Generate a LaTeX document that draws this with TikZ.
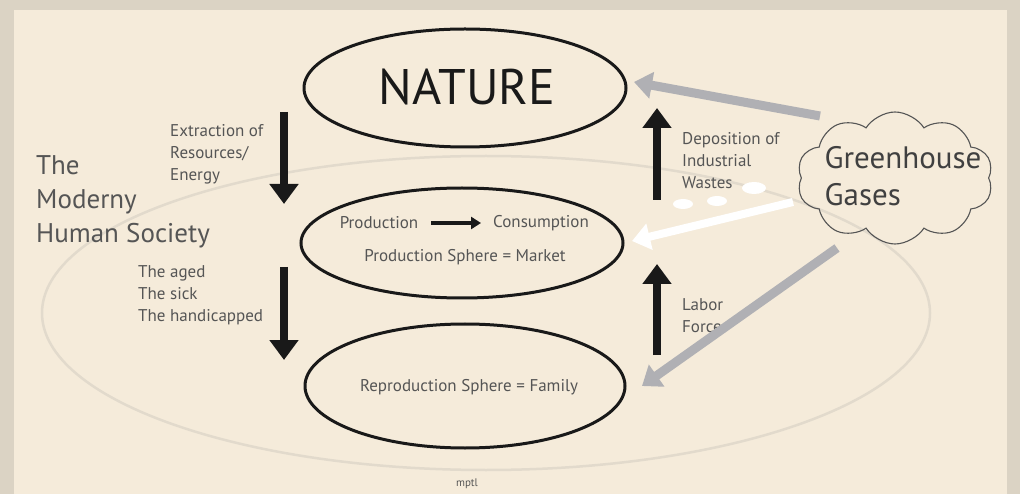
\documentclass[tikz,border=0pt]{standalone}
\usepackage{fontspec}
\setmainfont{PT Sans}
\usetikzlibrary{shapes.geometric,shapes.symbols,arrows.meta}

\definecolor{frame}{RGB}{219,211,196}
\definecolor{paper}{RGB}{245,235,218}
\definecolor{ring}{RGB}{226,218,204}
\definecolor{smoke}{RGB}{176,176,180}
\definecolor{ink}{RGB}{85,85,85}
\definecolor{pitch}{RGB}{25,25,25}

\tikzset{
  sphere/.style={draw=pitch,line width=3pt,ellipse,inner sep=0pt},
  flow/.style={draw=pitch,line width=8pt,-{Triangle[width=28pt,length=20pt]}},
  gas/.style={line width=9pt,-{Triangle[width=26pt,length=18pt]}},
  note/.style={text=ink,font=\fontsize{17}{22}\selectfont,align=left,anchor=west,inner sep=0pt},
  inside/.style={text=ink,font=\fontsize{17}{17}\selectfont,inner sep=0pt},
  puff/.style={fill=white,draw=none,ellipse,inner sep=0pt},
}

\begin{document}
\begin{tikzpicture}[x=1pt,y=-1pt]

\useasboundingbox (0,0) rectangle (1020,494);
\fill[frame] (0,0) rectangle (1020,494);
\fill[paper] (14,10) rectangle (1007,494);

% the society ring
\node[draw=ring,line width=2.5pt,ellipse,minimum width=888pt,minimum height=314pt] (society) at (486,313) {};

\node[text=ink,font=\fontsize{27}{34}\selectfont,align=left,anchor=west,inner sep=0pt] (title) at (36,202) {The\\Moderny\\Human Society};

% three spheres
\node[sphere,minimum width=322pt,minimum height=118pt] (nature) at (465,88) {};
\node[text=pitch,font=\fontsize{50}{50}\selectfont] (naturetext) at (467,87) {NATURE};

\node[sphere,minimum width=322pt,minimum height=110pt] (market) at (462,243) {};
\node[inside] (prod) at (379,223) {Production};
\node[inside] (cons) at (541,223) {Consumption};
\draw[draw=pitch,line width=3.5pt,-{Triangle[width=12pt,length=10pt]},shorten <=13pt,shorten >=12pt] (prod) -- (cons);
\node[inside] (markettext) at (465,257) {Production Sphere = Market};

\node[sphere,minimum width=320pt,minimum height=124pt] (family) at (465,386) {};
\node[inside] (familytext) at (469,387) {Reproduction Sphere = Family};

% black flows
\coordinate (ext-a) at (284,112);
\coordinate (ext-b) at (284,204);
\coordinate (care-a) at (284,267);
\coordinate (care-b) at (284,360);
\coordinate (waste-a) at (657,200);
\coordinate (waste-b) at (657,108);
\coordinate (labor-a) at (657,355);
\coordinate (labor-b) at (657,264);
\draw[flow] (ext-a) -- (ext-b);
\draw[flow] (care-a) -- (care-b);
\draw[flow] (waste-a) -- (waste-b);
\draw[flow] (labor-a) -- (labor-b);

\node[note] (extract) at (170,154) {Extraction of\\Resources/\\Energy};
\node[note] (care) at (138,295) {The aged\\The sick\\The handicapped};
\node[note] (waste) at (682,161) {Deposition of\\Industrial\\Wastes};
\node[note] (labor) at (682,316) {Labor\\Force};

% greenhouse gases
\node[cloud,draw=ink,line width=1.1pt,cloud puffs=10,cloud puff arc=115,aspect=1.45,minimum width=196pt,minimum height=132pt,inner sep=0pt] (ghg) at (895,178) {};
\node[text=black!75,font=\fontsize{31}{37}\selectfont,align=left,inner sep=0pt] (ghgtext) at (903,176) {Greenhouse\\Gases};

\coordinate (gas-a) at (820,116);
\coordinate (gas-b) at (634,82);
\coordinate (gas-c) at (793,202);
\coordinate (gas-d) at (632,241);
\coordinate (gas-e) at (837,248);
\coordinate (gas-f) at (642,386);
\draw[gas,smoke] (gas-a) -- (gas-b);
\draw[gas,white,line width=8pt] (gas-c) -- (gas-d);
\draw[gas,smoke] (gas-e) -- (gas-f);

\node[puff,minimum width=20pt,minimum height=10pt] (puff1) at (683,204) {};
\node[puff,minimum width=20pt,minimum height=10pt] (puff2) at (717,201) {};
\node[puff,minimum width=24pt,minimum height=12pt] (puff3) at (754,188) {};

\node[text=ink,font=\fontsize{11}{11}\selectfont,inner sep=0pt] (credit) at (467,484) {mptl};

\end{tikzpicture}
\end{document}
